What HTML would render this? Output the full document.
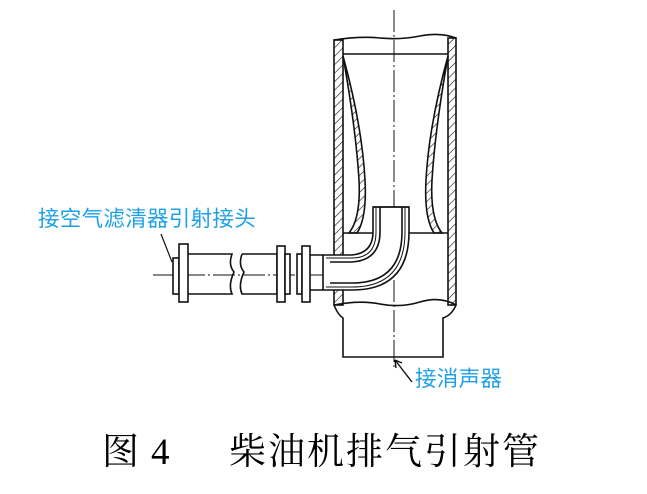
<!DOCTYPE html>
<html><head><meta charset="utf-8"><style>
html,body{margin:0;padding:0;background:#fff;width:647px;height:494px;overflow:hidden;position:relative}
.lbl{position:absolute;color:#1ea0e6;font-family:"Liberation Sans","Noto Sans CJK SC",sans-serif;font-size:21.5px;line-height:1;white-space:nowrap;letter-spacing:0.3px}
.cap{position:absolute;font-family:"Liberation Serif","Noto Serif CJK SC",serif;font-size:37px;line-height:1;white-space:nowrap;color:#000}
</style></head><body>
<svg width="647" height="494" style="position:absolute;left:0;top:0" xmlns="http://www.w3.org/2000/svg">
<defs>
<pattern id="h" width="6" height="6" patternUnits="userSpaceOnUse" patternTransform="rotate(45)">
<rect width="6" height="6" fill="#fff"/><line x1="0" y1="0" x2="0" y2="6" stroke="#111" stroke-width="1.2"/>
</pattern>
</defs>
<g stroke="#111" stroke-width="1.6" fill="none">
<line x1="394" y1="10" x2="394" y2="370" stroke-width="1" stroke-dasharray="22,3,2,3"/>
<line x1="153" y1="275" x2="330" y2="275" stroke-width="1" stroke-dasharray="22,3,2,3"/>
<rect x="334" y="40" width="9" height="265" fill="url(#h)"/>
<rect x="448" y="38" width="8" height="267" fill="url(#h)"/>
<path d="M334 40 Q360 36 380 38 T420 36 T456 38"/>
<line x1="343" y1="54" x2="448" y2="54"/>
<!-- liners as thin hatched bands -->
<path d="M343 56 Q356 130 359 180 Q361 218 349 233 L357 233 Q367 218 365 180 Q362 125 343 56 Z" fill="url(#h)"/>
<path d="M448 56 Q435 130 432 180 Q430 218 442 233 L434 233 Q424 218 426 180 Q429 125 448 56 Z" fill="url(#h)"/>
<line x1="343" y1="233" x2="448" y2="233"/>
<path d="M334 305 Q360 300 380 304 T420 302 T456 305"/>
<path d="M334 305 Q338 315 343 318 L343 357 L443 357 L443 318 Q452 315 456 305"/>
<!-- elbow -->
<path d="M373 207 L373 232 Q373 253 352 255 L323 255 L323 290 L352 290 Q409 290 409 232 L409 207 Z" fill="#fff"/>
<path d="M380 207 L380 232 Q380 260 352 262 L330 262" />
<path d="M402 207 L402 232 Q402 283 352 283 L330 283"/>
<path d="M376 207 L376 232 Q376 258 352 258 L326 258" stroke-width="1"/>
<path d="M405 207 L405 232 Q405 287 352 287 L326 287" stroke-width="1"/>
<line x1="373" y1="207" x2="409" y2="207"/>
<!-- left pipe -->
<rect x="173" y="258" width="6" height="36" fill="#fff"/>
<rect x="179" y="244" width="9" height="58" fill="#fff"/>
<path d="M188 254 L232 254 Q228 265 234 272 Q228 285 232 294 L188 294"/>
<path d="M242 254 L277 254 L277 294 L242 294 Q238 285 244 272 Q238 265 242 254"/>
<rect x="277" y="246" width="8" height="56" fill="#fff"/>
<rect x="285" y="254" width="5" height="40" fill="#fff"/>
<rect x="297" y="254" width="5" height="40" fill="#fff"/>
<rect x="302" y="246" width="8" height="56" fill="#fff"/>
<path d="M310 255 L323 255 M310 290 L323 290"/>
<path d="M161 234 L172 262" stroke-width="1.2"/>
<path d="M395 360 L412 382" stroke-width="1.4"/>
<path d="M395 360 L396 368 M395 360 L402 363" stroke-width="1.4"/>
</g>
</svg>
<div class="lbl" style="left:38px;top:209px">接空气滤清器引射接头</div>
<div class="lbl" style="left:415px;top:369px">接消声器</div>
<div class="cap" style="left:102px;top:434px">图</div>
<div class="cap" style="left:151px;top:434px">4</div>
<div class="cap" style="left:229px;top:434px;letter-spacing:2px">柴油机排气引射管</div>
</body></html>
